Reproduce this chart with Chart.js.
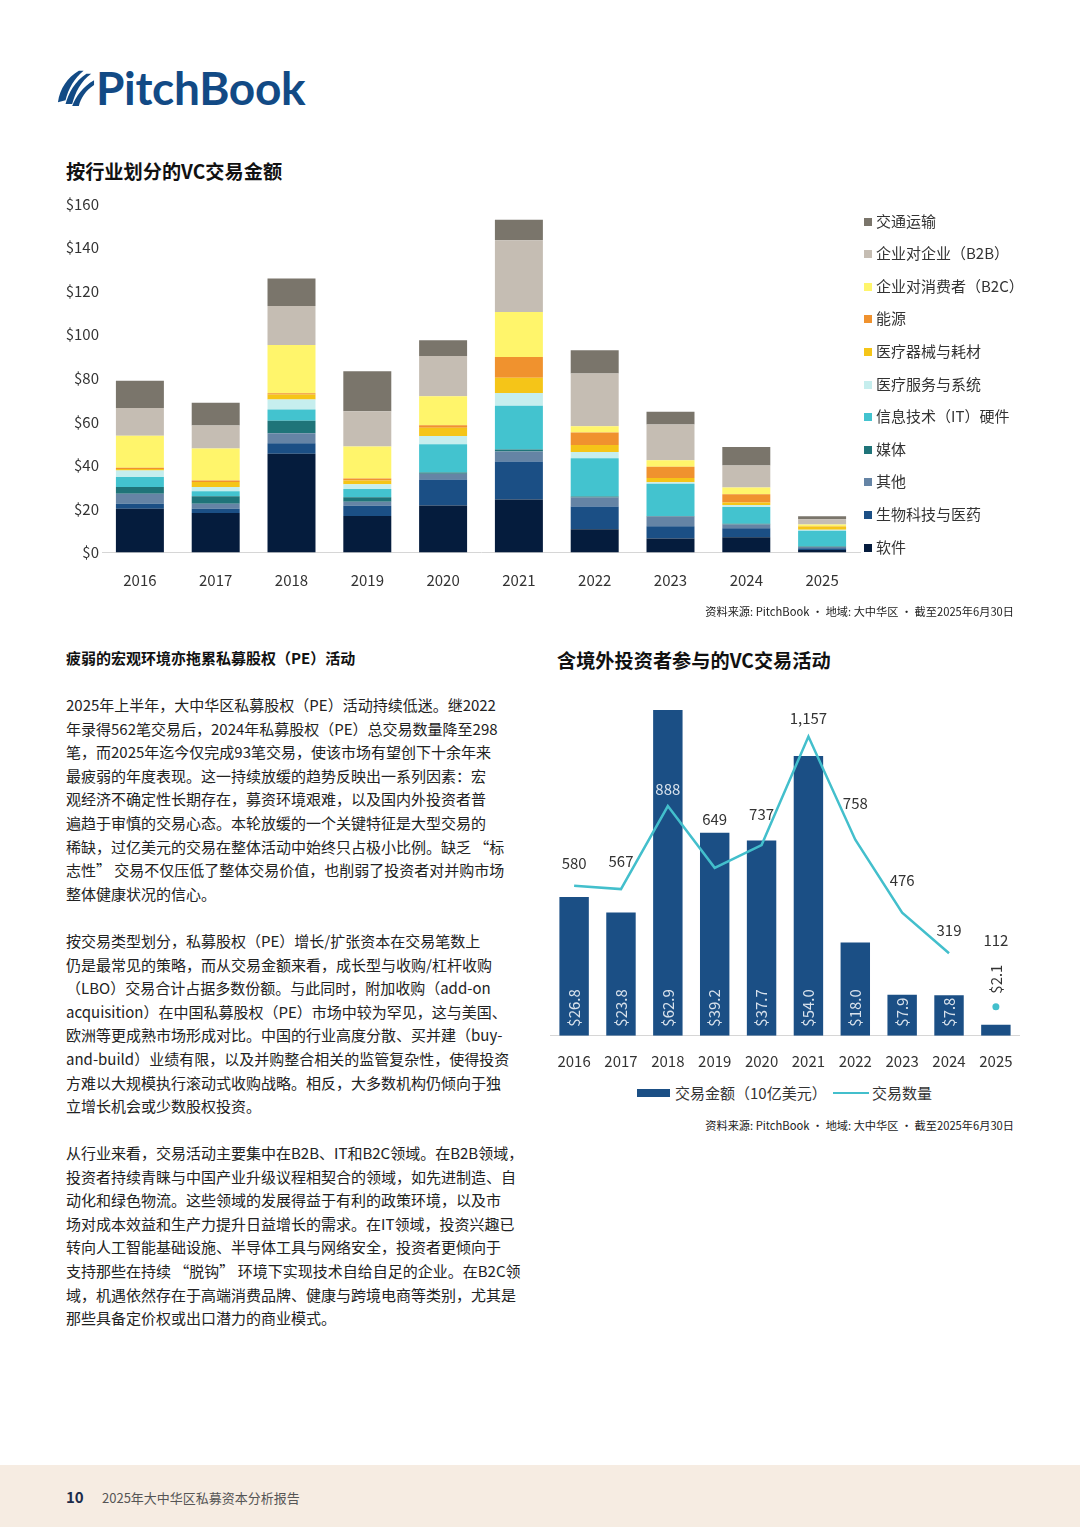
<!DOCTYPE html>
<html><head><meta charset="utf-8">
<script src="https://cdn.jsdelivr.net/npm/chart.js@4.4.1/dist/chart.umd.min.js"></script>
<style>
html,body{margin:0;padding:0;background:#fff;}
body{width:1080px;height:1527px;position:relative;overflow:hidden;font-family:"Noto Sans CJK SC","Noto Sans",sans-serif;color:#222;}
.abs{position:absolute;}
.title{font-weight:700;font-size:19.2px;color:#111;white-space:nowrap;line-height:24px;}
.para{left:66px;font-size:15px;line-height:23.6px;white-space:nowrap;color:#222;}
.src{font-size:11.2px;color:#222;white-space:nowrap;text-align:right;line-height:14px;}
.leg1{left:864px;font-size:15px;color:#333;white-space:nowrap;line-height:20px;}
.leg1 span.sw{display:inline-block;width:8px;height:8px;margin-right:4px;vertical-align:1px;}
</style></head>
<body>
<!-- logo -->
<svg class="abs" style="left:57px;top:67px" width="38" height="40" viewBox="0 0 40 40">
<g fill="#124a85">
<path d="M1 36 C3 22 11 10 23 3 L28 3 C18 11 12 22 9 34 Z"/>
<path d="M9 38 C12 26 19 14 31 6 L36 6 C25 14 19 26 16 38 Z"/>
<path d="M16 40 C20 30 27 20 39 13 L39 18 C30 24 25 32 23 40 Z"/>
</g></svg>
<div class="abs" id="logoText" style="left:96px;top:58px;font-family:Lato,'Open Sans',sans-serif;font-weight:700;font-size:46px;color:#124a85;line-height:60px;letter-spacing:-0.3px;">PitchBook</div>

<div class="abs title" style="left:66px;top:159px;">按行业划分的VC交易金额</div>
<div class="abs" style="left:40px;top:190px;width:830px;height:420px;"><canvas id="c1" width="830" height="420"></canvas></div>
<div id="legend1"></div>
<div class="abs src" style="right:66px;top:604px;">资料来源: PitchBook • 地域: 大中华区 • 截至2025年6月30日</div>

<div class="abs" style="left:66px;top:647px;font-size:15px;font-weight:700;white-space:nowrap;line-height:22px;color:#111;">疲弱的宏观环境亦拖累私募股权（PE）活动</div>

<div class="abs para" style="top:693px;">2025年上半年，大中华区私募股权（PE）活动持续低迷。继2022<br>年录得562笔交易后，2024年私募股权（PE）总交易数量降至298<br>笔，而2025年迄今仅完成93笔交易，使该市场有望创下十余年来<br>最疲弱的年度表现。这一持续放缓的趋势反映出一系列因素：宏<br>观经济不确定性长期存在，募资环境艰难，以及国内外投资者普<br>遍趋于审慎的交易心态。本轮放缓的一个关键特征是大型交易的<br>稀缺，过亿美元的交易在整体活动中始终只占极小比例。缺乏 “标<br>志性” 交易不仅压低了整体交易价值，也削弱了投资者对并购市场<br>整体健康状况的信心。</div>

<div class="abs para" style="top:929px;">按交易类型划分，私募股权（PE）增长/扩张资本在交易笔数上<br>仍是最常见的策略，而从交易金额来看，成长型与收购/杠杆收购<br>（LBO）交易合计占据多数份额。与此同时，附加收购（add-on<br>acquisition）在中国私募股权（PE）市场中较为罕见，这与美国、<br>欧洲等更成熟市场形成对比。中国的行业高度分散、买并建（buy-<br>and-build）业绩有限，以及并购整合相关的监管复杂性，使得投资<br>方难以大规模执行滚动式收购战略。相反，大多数机构仍倾向于独<br>立增长机会或少数股权投资。</div>

<div class="abs para" style="top:1141px;">从行业来看，交易活动主要集中在B2B、IT和B2C领域。在B2B领域，<br>投资者持续青睐与中国产业升级议程相契合的领域，如先进制造、自<br>动化和绿色物流。这些领域的发展得益于有利的政策环境，以及市<br>场对成本效益和生产力提升日益增长的需求。在IT领域，投资兴趣已<br>转向人工智能基础设施、半导体工具与网络安全，投资者更倾向于<br>支持那些在持续 “脱钩” 环境下实现技术自给自足的企业。在B2C领<br>域，机遇依然存在于高端消费品牌、健康与跨境电商等类别，尤其是<br>那些具备定价权或出口潜力的商业模式。</div>

<div class="abs title" style="left:557px;top:648px;">含境外投资者参与的VC交易活动</div>
<div class="abs" style="left:540px;top:680px;width:490px;height:395px;"><canvas id="c2" width="490" height="395"></canvas></div>
<div class="abs" style="left:637px;top:1082px;font-size:15px;color:#333;white-space:nowrap;line-height:22px;">
<span style="display:inline-block;width:33px;height:8px;background:#1b4f85;vertical-align:2px;"></span><span style="margin-left:5px;">交易金额（10亿美元）</span></div>
<div class="abs" style="left:833px;top:1082px;font-size:15px;color:#333;white-space:nowrap;line-height:22px;">
<span style="display:inline-block;width:36px;height:2.5px;background:#43bfcc;vertical-align:5px;"></span><span style="margin-left:3px;">交易数量</span></div>
<div class="abs src" style="right:66px;top:1118px;">资料来源: PitchBook • 地域: 大中华区 • 截至2025年6月30日</div>

<div class="abs" style="left:0;top:1465px;width:1080px;height:62px;background:#f6ece2;"></div>
<div class="abs" style="left:66px;top:1486px;font-size:15px;font-weight:700;color:#1c2b4a;line-height:22px;">10</div>
<div class="abs" style="left:102px;top:1487px;font-size:13px;color:#555;line-height:22px;white-space:nowrap;">2025年大中华区私募资本分析报告</div>

<script>
// ---------- DATA ----------
const years = ['2016','2017','2018','2019','2020','2021','2022','2023','2024','2025'];
const yTicks = [0,20,40,60,80,100,120,140,160];

// Chart 1: VC deal value by sector ($B), bottom to top
const software       = [20.1,18.1,45.3,16.8,21.6,24.3,10.7, 6.4, 7.0,1.1];
const biotech        = [ 2.3, 2.0, 4.9, 4.7,11.9,17.5,10.4, 5.7, 4.1,0.9];
const otherSector    = [ 4.6, 2.3, 4.6, 1.8, 2.6, 4.6, 4.1, 4.4, 1.8,0.5];
const media          = [ 3.1, 3.4, 5.7, 2.1, 0.6, 0.9, 0.5, 0.3, 0.3,0.3];
const itHardware     = [ 4.6, 2.3, 5.1, 3.8,13.0,20.1,17.6,14.8, 7.7,7.2];
const healthServices = [ 3.0, 2.0, 4.6, 2.1, 3.8, 5.8, 2.8, 0.6, 0.9,0.5];
const healthDevices  = [ 0.6, 2.3, 2.3, 1.8, 3.8, 7.0, 3.2, 2.0, 1.1,1.4];
const energy         = [ 0.6, 0.6, 0.6, 0.9, 1.1, 9.5, 5.8, 5.2, 3.8,0.2];
const b2c            = [14.7,14.7,22.2,14.7,13.3,20.7, 2.9, 2.9, 3.1,0.8];
const b2b            = [12.7,10.6,17.9,16.1,18.5,32.9,24.2,16.5,10.2,2.4];
const transport      = [12.6,10.4,12.6,18.4, 7.2, 9.5,10.7, 5.8, 8.4,1.4];

const sectorLabels = ['软件','生物科技与医药','其他','媒体','信息技术（IT）硬件','医疗服务与系统','医疗器械与耗材','能源','企业对消费者（B2C）','企业对企业（B2B）','交通运输'];
const sectorSeries = [software,biotech,otherSector,media,itHardware,healthServices,healthDevices,energy,b2c,b2b,transport];
const sectorColors = ['#051c3d','#1b4f85','#6584a5','#1f7479','#43c3cf','#c6eeee','#f5c518','#f0922e','#fff56b','#c5bdb3','#7a756b'];

// Chart 2: VC deals with foreign investor participation
const dealValue = [26.8,23.8,62.9,39.2,37.7,54.0,18.0,7.9,7.8,2.1];
const dealCount = [580,567,888,649,737,1157,758,476,319,112];

// ---------- STYLE ----------
const FONT = '"Noto Sans CJK SC","Noto Sans",sans-serif';
Chart.defaults.font.family = FONT;
Chart.defaults.color = '#333';

// Chart 1
new Chart(document.getElementById('c1'), {
  type: 'bar',
  data: {
    labels: years,
    datasets: sectorSeries.map((d,i)=>({
      label: sectorLabels[i], data: d, backgroundColor: sectorColors[i],
      borderWidth: 0, barPercentage: 1, categoryPercentage: 0.633, stack: 's'
    }))
  },
  options: {
    responsive: false, animation: false,
    layout: {padding: {left: 0, right: 10, top: 14, bottom: 0}},
    plugins: {legend: {display: false}, tooltip: {enabled: false}},
    scales: {
      x: {stacked: true, grid: {display: false, drawTicks: false},
          border: {display: true, color: '#d6d6d6', width: 1},
          ticks: {font: {size: 15}, color: '#333', padding: 19},
          afterFit: s => { s.height = 57.5; }},
      y: {stacked: true, min: 0, max: 160, grid: {display: false, drawTicks: false},
          border: {display: false},
          afterBuildTicks: s => { s.ticks = yTicks.map(v=>({value: v})); },
          ticks: {font: {size: 15}, color: '#333', padding: 3, callback: v => '$' + v},
          afterFit: s => { s.width = 62; }}
    }
  }
});

// HTML legend for chart 1 (top item = last series)
(function(){
  const el = document.getElementById('legend1');
  let html = '';
  for (let k = sectorLabels.length - 1, n = 0; k >= 0; k--, n++) {
    const top = 210.5 + n * 32.6;
    html += '<div class="abs leg1" style="top:' + top + 'px"><span class="sw" style="background:' + sectorColors[k] + '"></span>' + sectorLabels[k] + '</div>';
  }
  el.innerHTML = html;
})();

// Chart 2
const lineLabelOffsets = [22,28,17,49,31,18,36,32,23,66];
const labelPlugin = {
  id: 'labels2',
  afterDatasetsDraw(chart) {
    const ctx = chart.ctx;
    const bars = chart.getDatasetMeta(0).data;
    const pts = chart.getDatasetMeta(1).data;
    ctx.save();
    ctx.font = '15px ' + FONT;
    bars.forEach((b,i)=>{
      ctx.save();
      const small = (b.base - b.y) < 20;
      ctx.translate(b.x, b.base - (small ? 42 : 9));
      ctx.rotate(-Math.PI/2);
      ctx.textAlign = 'left'; ctx.textBaseline = 'middle';
      ctx.fillStyle = small ? '#333' : '#d9e2ec';
      ctx.fillText('$' + dealValue[i].toFixed(1), 0, 0);
      ctx.restore();
    });
    pts.forEach((p,i)=>{
      const y = p.y - lineLabelOffsets[i];
      const b = bars[i];
      const onBar = y > b.y && y < b.base;
      ctx.fillStyle = onBar ? '#d9e2ec' : '#333';
      ctx.textAlign = 'center'; ctx.textBaseline = 'middle';
      ctx.fillText(dealCount[i].toLocaleString('en-US'), p.x, y);
    });
    ctx.restore();
  }
};

new Chart(document.getElementById('c2'), {
  type: 'bar',
  data: {
    labels: years,
    datasets: [
      {type: 'bar', label: '交易金额（10亿美元）', data: dealValue, backgroundColor: '#1b4f85',
       borderWidth: 0, barPercentage: 1, categoryPercentage: 0.628, yAxisID: 'y', order: 1},
      {type: 'line', label: '交易数量', data: dealCount, borderColor: '#43bfcc', backgroundColor: '#43bfcc',
       borderWidth: 2.5, tension: 0, yAxisID: 'y1', order: 0,
       pointRadius: dealCount.map((v,i)=> i === dealCount.length - 1 ? 3.5 : 0),
       pointBorderWidth: 0,
       segment: {borderColor: c => c.p1DataIndex === dealCount.length - 1 ? 'rgba(0,0,0,0)' : '#43bfcc'}}
    ]
  },
  options: {
    responsive: false, animation: false,
    layout: {padding: {left: 10.5, right: 9.5, top: 19, bottom: 0}},
    plugins: {legend: {display: false}, tooltip: {enabled: false}},
    scales: {
      x: {grid: {display: false, drawTicks: false},
          border: {display: true, color: '#d6d6d6', width: 1},
          ticks: {font: {size: 15}, color: '#333', padding: 17},
          afterFit: s => { s.height = 39.3; }},
      y: {display: false, min: 0, max: 65},
      y1: {display: false, min: 0, max: 1302}
    }
  },
  plugins: [labelPlugin]
});
</script>
</body></html>
